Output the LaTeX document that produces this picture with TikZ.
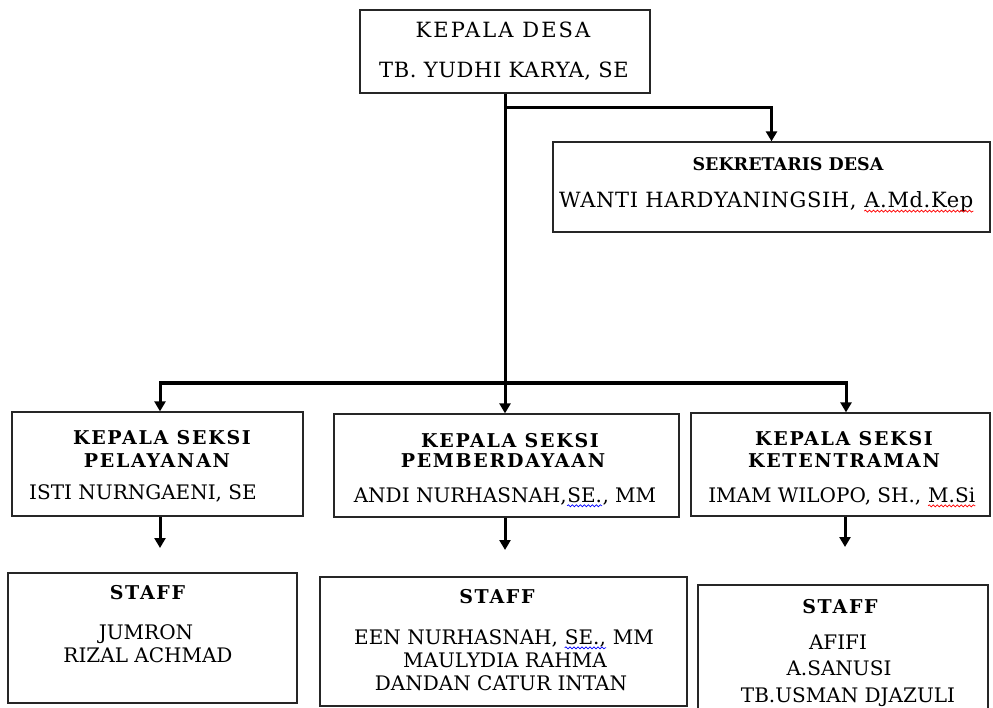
\documentclass[tikz,border=0pt]{standalone}
\usepackage{fontspec}
\setmainfont{DejaVu Serif}
\usetikzlibrary{arrows.meta,decorations.pathmorphing}
\newcommand\wavy[2]{\tikz[baseline=(w.base)]{\node[inner sep=0pt,text depth=0pt] (w) {#2};
  \draw[#1, line width=0.7pt, decorate, decoration={snake,amplitude=1pt,segment length=4pt}]
    ([yshift=-3.5pt]w.base west) -- ([yshift=-3.5pt]w.base east);}}
\begin{document}
\begin{tikzpicture}[x=1pt,y=-1pt,
  box/.style={draw=black!85, line width=1.3pt, inner sep=0pt, fill=none},
  conn/.style={line width=3pt, draw=black},
  arr/.style={-{Triangle[width=11pt,length=10pt]}},
  reg/.style={font=\fontsize{20}{24}\selectfont, inner sep=0pt, text height=14.6pt, text depth=0pt, anchor=center},
  wide/.style={font=\fontsize{21}{24}\selectfont\addfontfeatures{LetterSpace=3}, inner sep=0pt, text height=15.3pt, text depth=0pt, anchor=center},
  wider/.style={font=\fontsize{21}{24}\selectfont\addfontfeatures{LetterSpace=10}, inner sep=0pt, text height=15.3pt, text depth=0pt, anchor=center},
  hd/.style={font=\bfseries\fontsize{17.5}{21}\selectfont, inner sep=0pt, text height=12.8pt, text depth=0pt, anchor=center},
  hdw/.style={font=\bfseries\fontsize{19}{21}\selectfont\addfontfeatures{LetterSpace=9}, inner sep=0pt, text height=13.9pt, text depth=0pt, anchor=center}]
\fill[white] (0,0) rectangle (993,708);
\useasboundingbox (0,0) rectangle (993,708);
\clip (0,0) rectangle (993,708);
% boxes
\node[box, minimum width=290pt, minimum height=83pt] (kd) at (505,51.5) {};
\node[box, minimum width=437pt, minimum height=90pt] (sek) at (771.5,187) {};
\node[box, minimum width=291pt, minimum height=104pt] (ks1) at (157.5,464) {};
\node[box, minimum width=345pt, minimum height=103pt] (ks2) at (506.5,465.5) {};
\node[box, minimum width=299pt, minimum height=103pt] (ks3) at (840.5,464.5) {};
\node[box, minimum width=289pt, minimum height=130pt] (st1) at (152.5,638) {};
\node[box, minimum width=367pt, minimum height=129pt] (st2) at (503.5,641.5) {};
\node[box, minimum width=290pt, minimum height=155pt] (st3) at (843,662.5) {};
% texts
\node[wider] (kdA) at (503,30) {KEPALA DESA};
\node[wide] (kdB) at (504,70) {TB. YUDHI KARYA, SE};
\node[hd] (sekA) at (788,164) {SEKRETARIS DESA};
\node[wide] (sekB) at (766.5,200) {WANTI HARDYANINGSIH, \wavy{red}{A.Md.Kep}};
\node[hdw] (k1A) at (162,438) {KEPALA SEKSI};
\node[hdw] (k1B) at (157,461) {PELAYANAN};
\node[reg] (k1C) at (143,492.5) {ISTI NURNGAENI, SE};
\node[hdw] (k2A) at (510,441) {KEPALA SEKSI};
\node[hdw] (k2B) at (503,461) {PEMBERDAYAAN};
\node[reg] (k2C) at (505,495) {ANDI NURHASNAH,\wavy{blue}{SE.}, MM};
\node[hdw] (k3A) at (844,439) {KEPALA SEKSI};
\node[hdw] (k3B) at (844,461) {KETENTRAMAN};
\node[reg] (k3C) at (842,495) {IMAM WILOPO, SH., \wavy{red}{M.Si}};
\node[hdw] (s1A) at (147.5,593) {STAFF};
\node[reg] (s1B) at (146,632) {JUMRON};
\node[reg] (s1C) at (148,655) {RIZAL ACHMAD};
\node[hdw] (s2A) at (497,597) {STAFF};
\node[reg] (s2B) at (504,637) {EEN NURHASNAH, \wavy{blue}{SE.,} MM};
\node[reg] (s2C) at (505,660) {MAULYDIA RAHMA};
\node[reg] (s2D) at (501,683) {DANDAN CATUR INTAN};
\node[hdw] (s3A) at (840,607) {STAFF};
\node[reg] (s3B) at (838,642) {AFIFI};
\node[reg] (s3C) at (839,668) {A.SANUSI};
\node[reg] (s3D) at (848,695) {TB.USMAN DJAZULI};
% connectors
\coordinate (j1) at (505,108);
\coordinate (j2) at (505,383);
\coordinate (e1) at (160,548);
\coordinate (e2) at (505,550);
\coordinate (e3) at (845,547);
\draw[conn,arr] (kd.south) -- (kd.south |- ks2.north);
\draw[conn,arr] (j1) -| (sek.north);
\draw[conn,arr] (j2) -| ([xshift=2.5pt]ks1.north);
\draw[conn,arr] (j2) -| ([xshift=5.5pt]ks3.north);
\draw[conn,arr] (ks1.south -| e1) -- (e1);
\draw[conn,arr] (ks2.south -| e2) -- (e2);
\draw[conn,arr] (ks3.south -| e3) -- (e3);
\end{tikzpicture}
\end{document}
